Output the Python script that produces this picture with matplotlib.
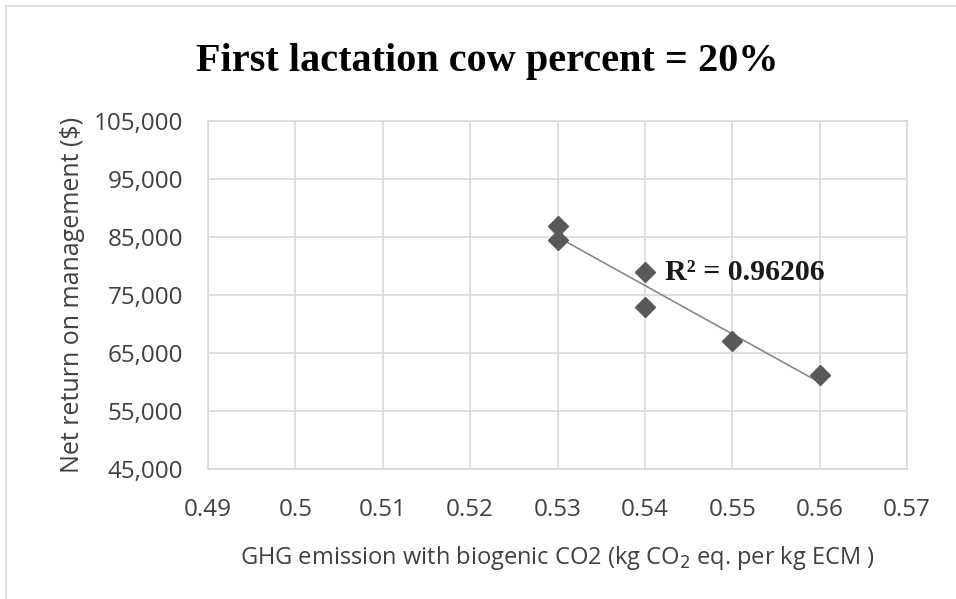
import matplotlib
matplotlib.use("Agg")
import matplotlib.pyplot as plt
import numpy as np
from matplotlib.ticker import FuncFormatter
from matplotlib.patches import Rectangle

# Data
ghg = [0.53, 0.53, 0.54, 0.54, 0.55, 0.56]
net_return = [86900, 84400, 79000, 73000, 67000, 61200]
r2_text = "R² = 0.96206"
title = "First lactation cow percent = 20%"
xlabel = "GHG emission with biogenic CO2 (kg CO$_2$ eq. per kg ECM )"
ylabel = "Net return on management ($)"
x_ticks = [0.49, 0.50, 0.51, 0.52, 0.53, 0.54, 0.55, 0.56, 0.57]
x_ticklabels = ["0.49", "0.5", "0.51", "0.52", "0.53", "0.54", "0.55", "0.56", "0.57"]
y_ticks = [45000, 55000, 65000, 75000, 85000, 95000, 105000]

W, H = 956, 599
fig = plt.figure(figsize=(W / 100, H / 100), dpi=100)
fig.patch.set_facecolor("white")

# outer chart border
fig.patches.append(Rectangle((6 / W, -0.1), 1.2, (H - 6) / H + 0.1, transform=fig.transFigure,
                             fill=False, edgecolor="#d9d9d9", linewidth=1.2))

ax = fig.add_axes([208 / W, (H - 469) / H, (907 - 208) / W, (469 - 121) / H])
ax.set_xlim(x_ticks[0], x_ticks[-1])
ax.set_ylim(y_ticks[0], y_ticks[-1])
ax.set_xticks(x_ticks)
ax.set_xticklabels(x_ticklabels)
ax.set_yticks(y_ticks)
ax.yaxis.set_major_formatter(FuncFormatter(lambda v, p: f"{int(round(v)):,}"))
ax.grid(True, color="#d9d9d9", linewidth=1.2)
ax.set_axisbelow(True)
for s in ax.spines.values():
    s.set_color("#d9d9d9")
    s.set_linewidth(1.2)
ax.tick_params(length=0, labelsize=17.5, colors="#404040")
ax.tick_params(axis="y", pad=18)
ax.tick_params(axis="x", pad=21)
for lab in ax.get_xticklabels() + ax.get_yticklabels():
    lab.set_fontfamily("Open Sans")

# trendline
coef = np.polyfit(ghg, net_return, 1)
xs = np.array([min(ghg), max(ghg)])
ax.plot(xs, np.polyval(coef, xs), color="#808080", linewidth=1.1, zorder=2)

ax.plot(ghg, net_return, linestyle="none", marker="D", markersize=10,
        color="#595959", markeredgecolor="#595959", zorder=3)

ax.text(0.5423, 78800, r2_text, fontsize=21.5, fontweight="bold", family="Liberation Serif",
        va="center", ha="left", color="#1a1a1a")

ax.set_xlabel(xlabel, fontsize=17, family="Open Sans", color="#404040", labelpad=16)
ax.set_ylabel(ylabel, fontsize=18, family="Open Sans", color="#404040", labelpad=6)

fig.text(487 / W, 1 - 61 / H, title, fontsize=29, fontweight="bold", family="Liberation Serif",
         ha="center", va="center", color="black")

fig.savefig("out.png", dpi=100)
